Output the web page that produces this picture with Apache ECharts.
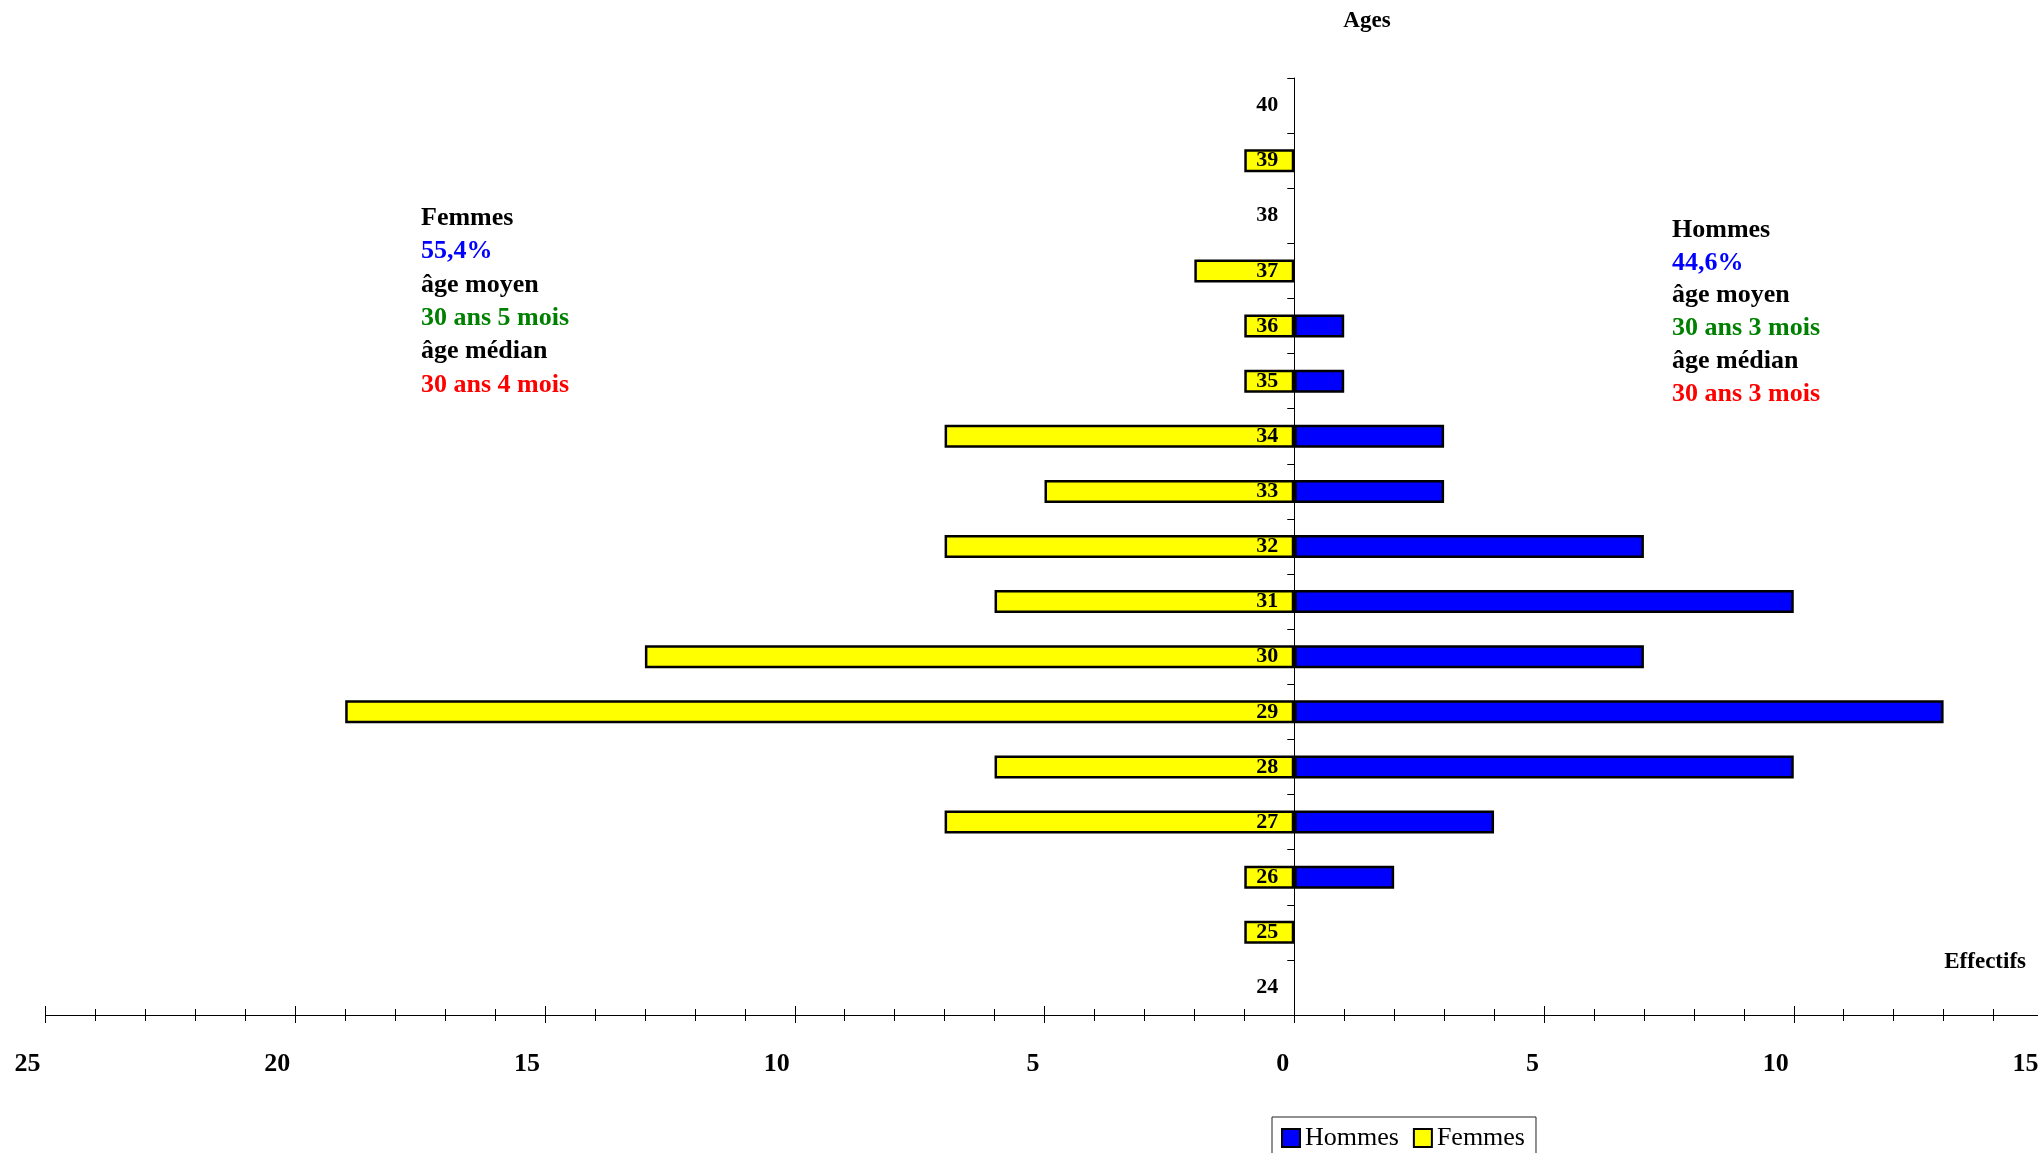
<!DOCTYPE html>
<html>
<head>
<meta charset="utf-8">
<script src="https://cdn.jsdelivr.net/npm/echarts@6/dist/echarts.min.js"></script>
<style>
html,body{margin:0;padding:0;background:#fff;}
#chart{width:2038px;height:1153px;}
</style>
</head>
<body>
<div id="chart"></div>
<script>
const ages = ['24','25','26','27','28','29','30','31','32','33','34','35','36','37','38','39','40'];
const hommes = [0,0,2,4,10,13,7,10,7,3,3,1,1,0,0,0,0];
const femmes = [0,1,1,7,6,19,13,6,7,5,7,1,1,2,0,1,0];
const femmesText = ['Femmes','55,4%','âge moyen','30 ans 5 mois','âge médian','30 ans 4 mois'];
const hommesText = ['Hommes','44,6%','âge moyen','30 ans 3 mois','âge médian','30 ans 3 mois'];
const textColors = ['#000000','#0000FF','#000000','#008000','#000000','#FF0000'];

const FONT = "'Liberation Serif','Times New Roman',serif";
const chart = echarts.init(document.getElementById('chart'), null, {renderer:'canvas'});

const GRID_LEFT = 45.5, GRID_W = 1998, XMIN = -25, XMAX = 15;
const zeroX = GRID_LEFT + GRID_W * (0 - XMIN) / (XMAX - XMIN);

function block(lines, x, y0, step){
  return lines.map((t,i)=>({
    type:'text', x:x, y:y0+step*i, z:20,
    style:{text:t, fill:textColors[i], font:'bold 26px '+FONT, align:'left', verticalAlign:'middle'}
  }));
}

const xCommon = {
  type:'value', min:XMIN, max:XMAX, interval:5, position:'bottom',
  axisLine:{show:true, onZero:false, lineStyle:{color:'#000', width:1}},
  splitLine:{show:false}
};

const option = {
  backgroundColor:'#ffffff',
  animation:false,
  grid:{left:GRID_LEFT, top:78, width:GRID_W, height:937, containLabel:false, outerBoundsMode:'none'},
  legend:{
    left:1272, top:1117, orient:'horizontal',
    padding:[8,11,7,9], itemGap:14, itemWidth:18, itemHeight:18,
    borderColor:'#222', borderWidth:1, backgroundColor:'#fff',
    textStyle:{fontFamily:FONT, fontSize:26, color:'#000'},
    data:[
      {name:'Hommes', icon:'rect', itemStyle:{color:'#0000FF', borderColor:'#000', borderWidth:2}},
      {name:'Femmes', icon:'rect', itemStyle:{color:'#FFFF00', borderColor:'#000', borderWidth:2}}
    ]
  },
  xAxis:[
    Object.assign({}, xCommon, {
      axisTick:{show:true, inside:false, length:8, lineStyle:{color:'#000'}},
      minorTick:{show:true, splitNumber:5, length:6, lineStyle:{color:'#000'}},
      axisLabel:{show:true, formatter:v=>String(Math.abs(v)), align:'right', margin:36,
        padding:[0,5,0,0], fontFamily:FONT, fontWeight:'bold', fontSize:26, color:'#000'}
    }),
    Object.assign({}, xCommon, {
      axisTick:{show:true, inside:true, length:9, lineStyle:{color:'#000'}},
      minorTick:{show:true, splitNumber:5, length:6, lineStyle:{color:'#000'}},
      axisLabel:{show:false}
    })
  ],
  yAxis:{
    type:'category', data:ages, z:10, position:'left', offset:-(zeroX - GRID_LEFT),
    axisLine:{show:true, onZero:false, lineStyle:{color:'#000', width:1}},
    axisTick:{show:true, inside:false, length:7, interval:0, lineStyle:{color:'#000'}},
    axisLabel:{show:true, interval:0, margin:16, fontFamily:FONT, fontWeight:'bold', fontSize:22, color:'#000'},
    splitLine:{show:false}
  },
  series:[
    {name:'Hommes', type:'bar', stack:'pyr', xAxisIndex:0, barWidth:23,
     data:hommes.map(v=>v===0?null:v),
     itemStyle:{color:'#0000FF', borderColor:'#000', borderWidth:2.5}},
    {name:'Femmes', type:'bar', stack:'pyr', xAxisIndex:0, barWidth:23,
     data:femmes.map(v=>v===0?null:-v),
     itemStyle:{color:'#FFFF00', borderColor:'#000', borderWidth:2.5}}
  ],
  graphic:[
    {type:'text', x:1367, y:21, z:20, style:{text:'Ages', fill:'#000', font:'bold 23px '+FONT, align:'center', verticalAlign:'middle'}},
    {type:'text', x:2026, y:962, z:20, style:{text:'Effectifs', fill:'#000', font:'bold 23px '+FONT, align:'right', verticalAlign:'middle'}}
  ].concat(block(femmesText, 421, 218, 33.4)).concat(block(hommesText, 1672, 230, 32.8))
};
chart.setOption(option);
</script>
</body>
</html>
